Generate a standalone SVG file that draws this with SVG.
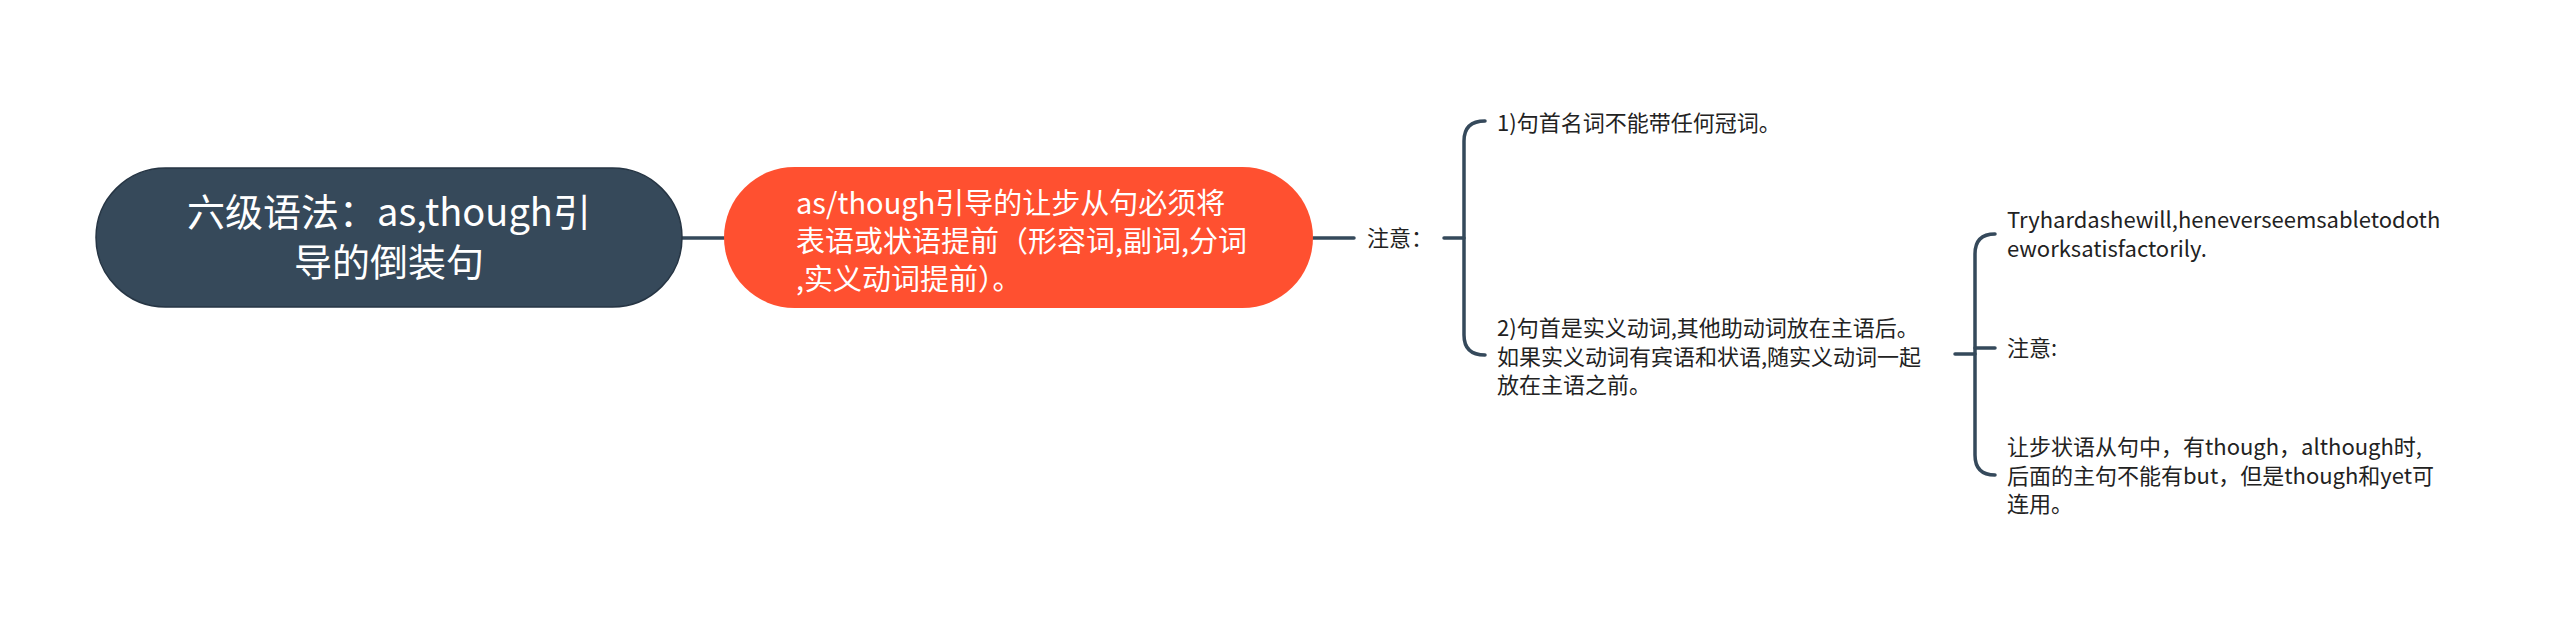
<svg xmlns="http://www.w3.org/2000/svg" width="2560" height="625" viewBox="0 0 2560 625">
<style>
.t{font-family:"Noto Sans CJK SC","Noto Sans",sans-serif;}
.root{font-size:38px;fill:#ffffff;text-anchor:middle;}
.main{font-size:29px;fill:#ffffff;}
.sm{font-size:22px;fill:#222222;}
.c{fill:none;stroke:#35495b;stroke-width:3.5;stroke-linecap:round;}
</style>
<rect width="2560" height="625" fill="#ffffff"/>
<g id="connectors">
<path class="c" d="M682,238 L724,238"/>
<path class="c" d="M1313,238 L1354,238"/>
<path class="c" d="M1444,238 L1464,238"/>
<path class="c" d="M1485,121 Q1464,121 1464,141 L1464,335 Q1464,355 1485,355"/>
<path class="c" d="M1955,354 L1975,354"/>
<path class="c" d="M1995,234 Q1975,234 1975,254 L1975,455 Q1975,475 1995,475"/>
<path class="c" d="M1975,348 L1995,348"/>
</g>
<g id="root">
<rect x="96" y="168" width="586" height="139" rx="69.5" fill="#36495a" stroke="#263544" stroke-width="1.5"/>
<text class="t root" x="389" y="226">六级语法：as,though引</text>
<text class="t root" x="389" y="276">导的倒装句</text>
</g>
<g id="main">
<rect x="724" y="167" width="589" height="141" rx="70.5" fill="#ff5030"/>
<text class="t main" x="796" y="214">as/though引导的让步从句必须将</text>
<text class="t main" x="796" y="252">表语或状语提前（形容词,副词,分词</text>
<text class="t main" x="796" y="290">,实义动词提前）。</text>
</g>
<g id="note1">
<text class="t sm" x="1367" y="246">注意：</text>
</g>
<g id="item1">
<text class="t sm" x="1497" y="131">1)句首名词不能带任何冠词。</text>
</g>
<g id="item2">
<text class="t sm" x="1497" y="336">2)句首是实义动词,其他助动词放在主语后。</text>
<text class="t sm" x="1497" y="364.6">如果实义动词有宾语和状语,随实义动词一起</text>
<text class="t sm" x="1497" y="393.2">放在主语之前。</text>
</g>
<g id="sub1">
<text class="t sm" x="2007" y="228">Tryhardashewill,heneverseemsabletodoth</text>
<text class="t sm" x="2007" y="256.6">eworksatisfactorily.</text>
</g>
<g id="sub2">
<text class="t sm" x="2007" y="356">注意:</text>
</g>
<g id="sub3">
<text class="t sm" x="2007" y="455">让步状语从句中，有though，although时,</text>
<text class="t sm" x="2007" y="483.6">后面的主句不能有but，但是though和yet可</text>
<text class="t sm" x="2007" y="512.2">连用。</text>
</g>
</svg>
